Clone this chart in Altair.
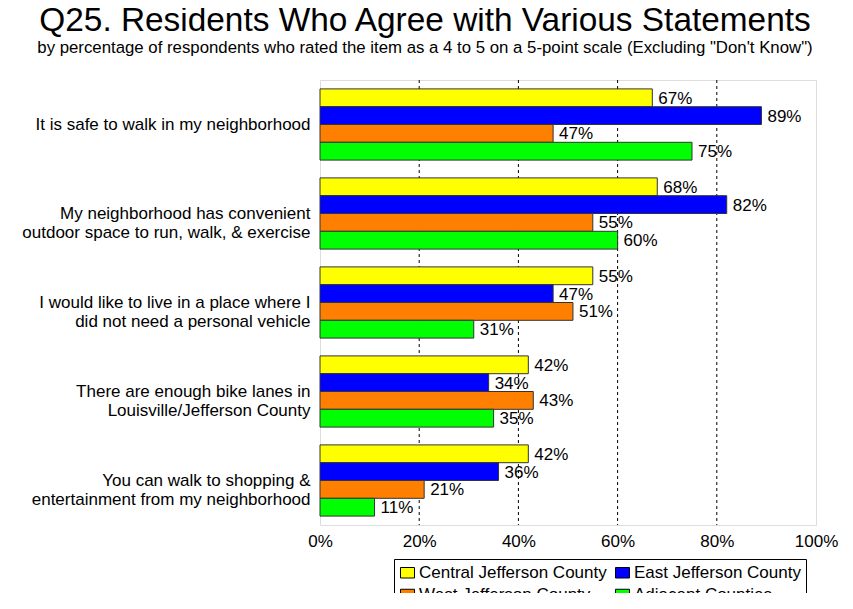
import altair as alt
import pandas as pd

categories = [
    "It is safe to walk in my neighborhood",
    "My neighborhood has convenient\noutdoor space to run, walk, & exercise",
    "I would like to live in a place where I\ndid not need a personal vehicle",
    "There are enough bike lanes in\nLouisville/Jefferson County",
    "You can walk to shopping &\nentertainment from my neighborhood",
]
series = ["Central Jefferson County", "East Jefferson County",
          "West Jefferson County", "Adjacent Counties"]
central = [67, 68, 55, 42, 42]
east = [89, 82, 47, 34, 36]
west = [47, 55, 51, 43, 21]
adjacent = [75, 60, 31, 35, 11]
colors = ["#FFFF00", "#0000FF", "#FF8000", "#00FF00"]
tick_values = [0, 20, 40, 60, 80, 100]
grid_values = [20, 40, 60, 80]

rows = []
for s, vals in zip(series, [central, east, west, adjacent]):
    for c, v in zip(categories, vals):
        rows.append({"item": c, "area": s, "pct": v, "label": f"{v}%"})
df = pd.DataFrame(rows)
grid_df = pd.DataFrame({"g": grid_values})

FONT = "Liberation Sans"

xscale = alt.Scale(domain=[0, 100], nice=False, zero=True)
yscale = alt.Scale(paddingInner=0.2, paddingOuter=0.1)

grid = alt.Chart(grid_df).mark_rule(color="black", strokeDash=[3, 3], strokeWidth=1).encode(
    x=alt.X("g:Q", scale=xscale)
)

base = alt.Chart(df).encode(
    y=alt.Y("item:N", sort=categories, scale=yscale,
            axis=alt.Axis(title=None, ticks=False, domain=False,
                          labelExpr="split(datum.label, '\\n')",
                          labelFont=FONT, labelFontSize=17, labelColor="black",
                          labelPadding=10, labelLimit=400, labelLineHeight=19.5)),
    yOffset=alt.YOffset("area:N", sort=series, scale=alt.Scale(paddingInner=0, paddingOuter=0)),
)

bars = base.mark_bar(stroke="#333333", strokeWidth=1).encode(
    x=alt.X("pct:Q", scale=xscale,
            axis=alt.Axis(title=None, values=tick_values, grid=False, ticks=False, domain=False,
                          labelExpr="datum.value + '%'", labelFont=FONT, labelFontSize=17,
                          labelColor="black", labelPadding=8, labelFlush=False)),
    color=alt.Color("area:N", sort=series,
                    scale=alt.Scale(domain=series, range=colors),
                    legend=alt.Legend(title=None, orient="none", legendX=74, legendY=479,
                                      columns=2, direction="horizontal", gridAlign="all",
                                      symbolType="M-1,-0.75H1V0.75H-1Z", symbolSize=196,
                                      symbolStrokeColor="black", symbolStrokeWidth=1,
                                      symbolOpacity=1, labelLimit=400,
                                      labelFont=FONT, labelFontSize=17, labelColor="black",
                                      labelOffset=3, columnPadding=6, rowPadding=4,
                                      strokeColor="black", fillColor="white", padding=5)),
)

text = base.mark_text(align="left", baseline="middle", dx=6, dy=1,
                      font=FONT, fontSize=17, color="black").encode(
    x=alt.X("pct:Q", scale=xscale),
    text="label:N",
)

chart = alt.layer(grid, bars, text).properties(
    width=496,
    height=445,
    autosize=alt.AutoSizeParams(type="none"),
    padding={"left": 312, "top": 72, "right": 29, "bottom": 68},
    title=alt.TitleParams(
        text="Q25. Residents Who Agree with Various Statements",
        subtitle='by percentage of respondents who rated the item as a 4 to 5 on a 5-point scale (Excluding "Don\'t Know")',
        anchor="middle", frame="group", dx=-143, offset=22,
        font=FONT, fontSize=33.4, fontWeight="normal", color="black",
        subtitleFont=FONT, subtitleFontSize=16.8, subtitleColor="black", subtitlePadding=1,
    ),
).configure_view(stroke="#808080", strokeWidth=1.5).configure(background="white")

chart.save("out.html", embed_options={"renderer": "svg", "actions": False})
